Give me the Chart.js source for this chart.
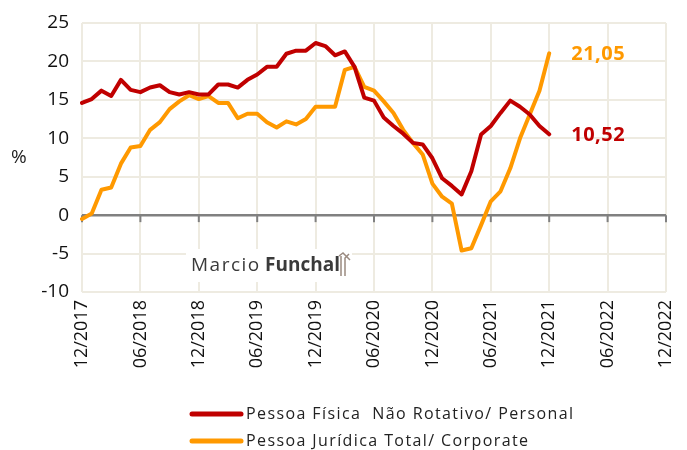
<!DOCTYPE html>
<html>
<head>
<meta charset="utf-8">
<script src="https://cdn.jsdelivr.net/npm/chart.js@4"></script>
<style>
  html, body { margin: 0; padding: 0; background: #fff; }
  canvas { display: block; }
</style>
</head>
<body>
<canvas id="chart" width="687" height="450"></canvas>
<script>
// monthly labels, 12/2017 .. 12/2022
const months = [];
for (let m = 0; m <= 60; m++) {
  const mm = ((11 + m) % 12) + 1;
  const yy = 2017 + Math.floor((11 + m) / 12);
  months.push(String(mm).padStart(2, "0") + "/" + yy);
}

// Pessoa Física Não Rotativo (12/2017 .. 12/2021)
const pessoaFisica = [
  14.6, 15.1, 16.2, 15.5, 17.6, 16.3, 16.0, 16.6, 16.9, 16.0,
  15.7, 16.0, 15.7, 15.7, 17.0, 17.0, 16.6, 17.6, 18.3, 19.3,
  19.3, 21.0, 21.4, 21.4, 22.4, 22.0, 20.8, 21.3, 19.3, 15.3,
  14.9, 12.7, 11.6, 10.6, 9.4, 9.2, 7.4, 4.8, 3.8, 2.7,
  5.7, 10.5, 11.6, 13.3, 14.9, 14.1, 13.1, 11.6, 10.52
];

// Pessoa Jurídica Total
const pessoaJuridica = [
  -0.5, 0.2, 3.3, 3.6, 6.7, 8.8, 9.0, 11.1, 12.1, 13.8,
  14.8, 15.6, 15.1, 15.5, 14.6, 14.6, 12.6, 13.2, 13.2, 12.1,
  11.4, 12.2, 11.8, 12.5, 14.1, 14.1, 14.1, 18.9, 19.3, 16.7,
  16.2, 14.8, 13.3, 11.1, 9.4, 7.9, 4.1, 2.4, 1.5, -4.6,
  -4.3, -1.3, 1.8, 3.1, 6.1, 10.0, 13.1, 16.2, 21.05
];

const seriesNames = ["Pessoa Física  Não Rotativo/ Personal", "Pessoa Jurídica Total/ Corporate"];
const seriesColors = ["#C00000", "#FF9900"];

const FONT = "'Open Sans', 'DejaVu Sans', sans-serif";
const GRID = "#EEEBE1";

const extras = {
  id: "extras",
  beforeDatasetsDraw(chart) {
    const { ctx, scales: { x, y } } = chart;
    const y0 = y.getPixelForValue(0);
    ctx.save();
    ctx.strokeStyle = "#808080";
    ctx.lineWidth = 2;
    for (let i = 0; i < months.length; i += 6) {
      const px = x.getPixelForValue(i);
      ctx.beginPath();
      ctx.moveTo(px, y0);
      ctx.lineTo(px, y0 + 7);
      ctx.stroke();
    }
    // watermark
    ctx.fillStyle = "#fff";
    ctx.fillRect(186, 249, 166, 33);
    ctx.textBaseline = "middle";
    ctx.font = "19px " + FONT;
    ctx.letterSpacing = "1.5px";
    ctx.fillStyle = "#3a3a3a";
    ctx.fillText("Marcio", 191, 266);
    ctx.letterSpacing = "0px";
    ctx.font = "bold 19px " + FONT;
    ctx.fillText("Funchal", 265, 266);
    ctx.strokeStyle = "#9a8a80";
    ctx.lineWidth = 1.5;
    ctx.beginPath();
    ctx.moveTo(341, 276); ctx.lineTo(341, 256);
    ctx.moveTo(345, 276); ctx.lineTo(345, 258); ctx.lineTo(349, 254);
    ctx.moveTo(339, 256); ctx.lineTo(343, 253); ctx.lineTo(350, 260);
    ctx.stroke();
    ctx.restore();
  },
  afterDatasetsDraw(chart) {
    const { ctx } = chart;
    ctx.save();
    ctx.font = "bold 20px " + FONT;
    ctx.letterSpacing = "0.5px";
    ctx.textBaseline = "middle";
    chart.data.datasets.forEach((ds, di) => {
      const meta = chart.getDatasetMeta(di);
      const pt = meta.data[meta.data.length - 1];
      const v = ds.data[ds.data.length - 1];
      ctx.fillStyle = seriesColors[di];
      ctx.fillText(v.toFixed(2).replace(".", ","), pt.x + 22, pt.y + 1);
    });
    // % label
    ctx.letterSpacing = "0px";
    ctx.fillStyle = "#222";
    ctx.font = "19px " + FONT;
    ctx.fillText("%", 11, 158);
    // legend
    ctx.font = "16px " + FONT;
    ctx.letterSpacing = "1.4px";
    seriesNames.forEach((name, i) => {
      const ly = 414 + i * 27;
      ctx.strokeStyle = seriesColors[i];
      ctx.lineWidth = 5;
      ctx.lineCap = "round";
      ctx.beginPath();
      ctx.moveTo(192, ly);
      ctx.lineTo(241, ly);
      ctx.stroke();
      ctx.fillStyle = "#222";
      ctx.fillText(name, 246, ly);
    });
    ctx.restore();
  }
};

new Chart(document.getElementById("chart"), {
  type: "line",
  data: {
    labels: months,
    datasets: [
      { label: seriesNames[0], data: pessoaFisica, borderColor: seriesColors[0], borderWidth: 4, pointRadius: 0, tension: 0, borderJoinStyle: "round", borderCapStyle: "round" },
      { label: seriesNames[1], data: pessoaJuridica, borderColor: seriesColors[1], borderWidth: 4, pointRadius: 0, tension: 0, borderJoinStyle: "round", borderCapStyle: "round" }
    ]
  },
  options: {
    responsive: false,
    animation: false,
    devicePixelRatio: 1,
    layout: { padding: { top: 23, right: 21, left: 0, bottom: 0 } },
    plugins: { legend: { display: false }, tooltip: { enabled: false } },
    scales: {
      x: {
        type: "category",
        offset: false,
        grid: {
          color: (c) => (c.index % 6 === 0 ? GRID : "rgba(0,0,0,0)"),
          lineWidth: 2,
          drawTicks: false
        },
        border: { display: false },
        ticks: {
          autoSkip: false,
          maxRotation: 90,
          minRotation: 90,
          padding: 8,
          color: "#111",
          font: { family: FONT, size: 18 },
          callback: function (v, i) { return i % 6 === 0 ? months[i] : ""; }
        },
        afterFit: (s) => { s.height = 158; s.paddingLeft = 0; s.paddingRight = 0; }
      },
      y: {
        min: -10,
        max: 25,
        grid: {
          color: (c) => (c.tick.value === 0 ? "#808080" : GRID),
          lineWidth: (c) => (c.tick.value === 0 ? 2.5 : 2),
          drawTicks: false
        },
        border: { display: false },
        ticks: {
          stepSize: 5,
          padding: 13,
          color: "#111",
          font: { family: FONT, size: 19 }
        },
        afterFit: (s) => { s.width = 82; s.paddingTop = 0; s.paddingBottom = 0; }
      }
    }
  },
  plugins: [extras]
});
</script>
</body>
</html>
